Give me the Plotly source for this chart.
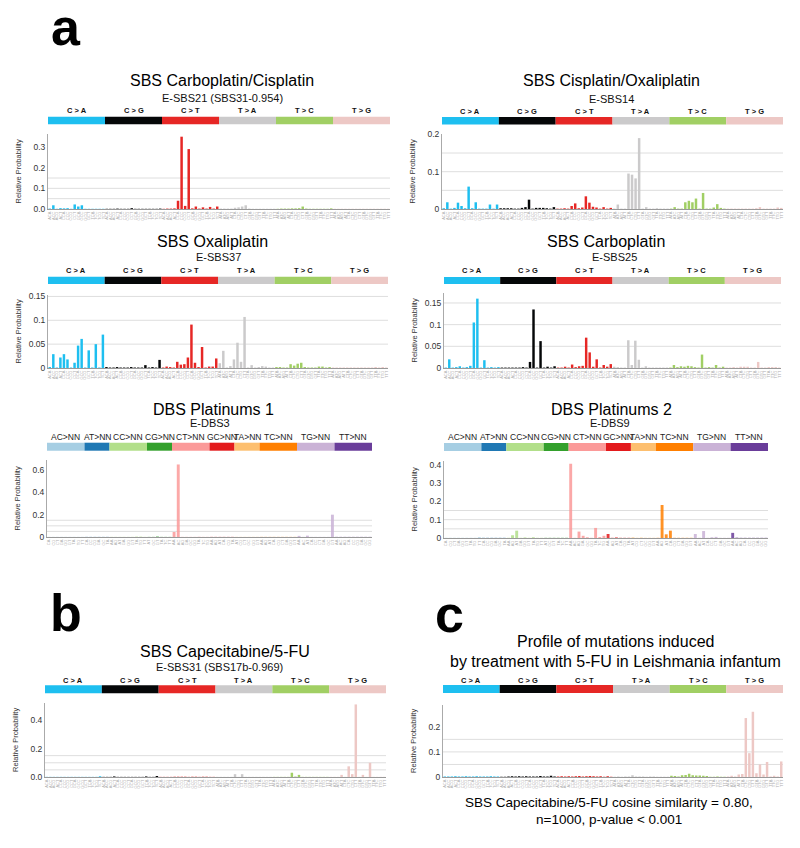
import plotly.graph_objects as go

W, H = 800, 848

# ---------------- categories / tick labels ----------------
SBS_TYPES = ["C > A", "C > G", "C > T", "T > A", "T > C", "T > G"]
SBS_COLORS = ["#1EBFF0", "#050708", "#E62725", "#CBCACB", "#A1CF64", "#EDC8C5"]
SBS_FLANKS = ["A_A", "A_C", "A_G", "A_T", "C_A", "C_C", "C_G", "C_T",
              "G_A", "G_C", "G_G", "G_T", "T_A", "T_C", "T_G", "T_T"]
SBS_REF = ["C", "C", "C", "T", "T", "T"]

DBS_TYPES = ["AC>NN", "AT>NN", "CC>NN", "CG>NN", "CT>NN", "GC>NN", "TA>NN", "TC>NN", "TG>NN", "TT>NN"]
DBS_COLORS = ["#A6CEE3", "#1F78B4", "#B2DF8A", "#33A02C", "#FB9A99",
              "#E31A1C", "#FDBF6F", "#FF7F00", "#CAB2D6", "#6A3D9A"]
DBS_ALTS = [
    ["CA", "CG", "CT", "GA", "GG", "GT", "TA", "TG", "TT"],
    ["CA", "CC", "CG", "GA", "GC", "TA"],
    ["AA", "AG", "AT", "GA", "GG", "GT", "TA", "TG", "TT"],
    ["AT", "GC", "GT", "TA", "TC", "TT"],
    ["AA", "AC", "AG", "GA", "GC", "GG", "TA", "TC", "TG"],
    ["AA", "AG", "AT", "CA", "CG", "TA"],
    ["AT", "CG", "CT", "GC", "GG", "GT"],
    ["AA", "AG", "AT", "CA", "CG", "CT", "GA", "GG", "GT"],
    ["AA", "AC", "AT", "CA", "CC", "CT", "GA", "GC", "GT"],
    ["AA", "AC", "AG", "CA", "CC", "CG", "GA", "GC", "GG"],
]

# ---------------- values ----------------
carbo_cis = [
    0.002, 0.018, 0.001, 0.004, 0.003, 0.004, 0.001, 0.022, 0.012, 0.018, 0.001, 0.001, 0.001, 0.001, 0.001, 0.001,
    0.001, 0.001, 0.001, 0.002, 0.001, 0.001, 0.001, 0.004, 0.001, 0.001, 0.001, 0.001, 0.001, 0.001, 0.001, 0.002,
    0.001, 0.002, 0.002, 0.003, 0.040, 0.350, 0.015, 0.290, 0.003, 0.012, 0.002, 0.008, 0.002, 0.010, 0.002, 0.012,
    0.002, 0.002, 0.002, 0.002, 0.006, 0.008, 0.012, 0.018, 0.002, 0.001, 0.001, 0.001, 0.001, 0.001, 0.001, 0.001,
    0.001, 0.002, 0.002, 0.002, 0.003, 0.003, 0.004, 0.012, 0.002, 0.001, 0.001, 0.001, 0.001, 0.001, 0.001, 0.003,
    0.001, 0.001, 0.001, 0.001, 0.001, 0.001, 0.001, 0.001, 0.001, 0.001, 0.001, 0.001, 0.001, 0.001, 0.001, 0.001,
]
cis_oxa = [
    0.002, 0.018, 0.001, 0.003, 0.017, 0.008, 0.002, 0.060, 0.002, 0.018, 0.001, 0.001, 0.001, 0.012, 0.001, 0.012,
    0.002, 0.002, 0.002, 0.002, 0.001, 0.001, 0.003, 0.005, 0.025, 0.001, 0.003, 0.003, 0.003, 0.002, 0.001, 0.005,
    0.001, 0.001, 0.002, 0.001, 0.008, 0.015, 0.002, 0.004, 0.034, 0.017, 0.006, 0.004, 0.001, 0.005, 0.001, 0.003,
    0.001, 0.012, 0.001, 0.001, 0.095, 0.092, 0.082, 0.190, 0.001, 0.005, 0.001, 0.001, 0.002, 0.001, 0.001, 0.001,
    0.001, 0.005, 0.001, 0.001, 0.018, 0.022, 0.018, 0.028, 0.001, 0.043, 0.001, 0.001, 0.004, 0.013, 0.003, 0.001,
    0.001, 0.001, 0.001, 0.001, 0.001, 0.001, 0.001, 0.001, 0.002, 0.005, 0.001, 0.001, 0.001, 0.001, 0.004, 0.003,
]
oxa = [
    0.002, 0.029, 0.001, 0.022, 0.029, 0.018, 0.001, 0.011, 0.047, 0.061, 0.001, 0.037, 0.001, 0.050, 0.001, 0.070,
    0.002, 0.001, 0.001, 0.002, 0.001, 0.001, 0.001, 0.002, 0.001, 0.001, 0.001, 0.006, 0.001, 0.002, 0.001, 0.017,
    0.001, 0.003, 0.002, 0.001, 0.013, 0.007, 0.008, 0.022, 0.091, 0.011, 0.002, 0.044, 0.001, 0.003, 0.003, 0.020,
    0.010, 0.036, 0.001, 0.004, 0.018, 0.053, 0.013, 0.107, 0.001, 0.006, 0.001, 0.002, 0.004, 0.003, 0.001, 0.001,
    0.002, 0.002, 0.001, 0.001, 0.008, 0.005, 0.009, 0.011, 0.002, 0.001, 0.001, 0.001, 0.003, 0.003, 0.001, 0.002,
    0.001, 0.001, 0.001, 0.001, 0.001, 0.001, 0.001, 0.001, 0.001, 0.001, 0.001, 0.001, 0.002, 0.001, 0.002, 0.001,
]
carbo = [
    0.001, 0.020, 0.001, 0.002, 0.004, 0.001, 0.002, 0.005, 0.105, 0.160, 0.001, 0.018, 0.001, 0.002, 0.001, 0.002,
    0.001, 0.001, 0.001, 0.001, 0.001, 0.001, 0.002, 0.001, 0.014, 0.135, 0.001, 0.062, 0.001, 0.003, 0.001, 0.004,
    0.001, 0.001, 0.003, 0.001, 0.008, 0.002, 0.004, 0.005, 0.070, 0.036, 0.003, 0.020, 0.001, 0.007, 0.003, 0.009,
    0.003, 0.002, 0.001, 0.001, 0.064, 0.007, 0.063, 0.019, 0.001, 0.004, 0.001, 0.001, 0.001, 0.001, 0.001, 0.001,
    0.001, 0.007, 0.002, 0.004, 0.003, 0.005, 0.004, 0.002, 0.001, 0.031, 0.001, 0.002, 0.001, 0.007, 0.001, 0.003,
    0.001, 0.001, 0.002, 0.001, 0.003, 0.003, 0.003, 0.001, 0.001, 0.014, 0.001, 0.001, 0.002, 0.002, 0.002, 0.001,
]
dbs_plat1 = [
    0.001, 0.001, 0.001, 0.001, 0.001, 0.001, 0.001, 0.001, 0.001,
    0.001, 0.001, 0.001, 0.001, 0.001, 0.001,
    0.001, 0.001, 0.001, 0.001, 0.001, 0.001, 0.003, 0.003, 0.001,
    0.001, 0.001, 0.004, 0.001, 0.001, 0.001,
    0.045, 0.650, 0.001, 0.001, 0.001, 0.001, 0.002, 0.001, 0.001,
    0.001, 0.001, 0.001, 0.001, 0.001, 0.001,
    0.001, 0.001, 0.001, 0.001, 0.001, 0.001,
    0.001, 0.001, 0.001, 0.001, 0.001, 0.001, 0.001, 0.001, 0.001,
    0.010, 0.001, 0.012, 0.001, 0.001, 0.001, 0.001, 0.001, 0.200,
    0.001, 0.001, 0.001, 0.001, 0.001, 0.001, 0.001, 0.001, 0.001,
]
dbs_plat2 = [
    0.001, 0.001, 0.001, 0.001, 0.001, 0.001, 0.001, 0.001, 0.004,
    0.001, 0.001, 0.001, 0.001, 0.001, 0.001,
    0.001, 0.015, 0.040, 0.001, 0.003, 0.001, 0.004, 0.001, 0.001,
    0.001, 0.001, 0.001, 0.001, 0.001, 0.001,
    0.405, 0.001, 0.035, 0.012, 0.004, 0.001, 0.055, 0.005, 0.012,
    0.022, 0.001, 0.003, 0.001, 0.001, 0.001,
    0.003, 0.001, 0.002, 0.001, 0.001, 0.001,
    0.001, 0.180, 0.020, 0.040, 0.001, 0.001, 0.001, 0.001, 0.001,
    0.022, 0.001, 0.038, 0.001, 0.004, 0.006, 0.001, 0.001, 0.001,
    0.028, 0.002, 0.001, 0.001, 0.001, 0.001, 0.001, 0.001, 0.001,
]
capecitabine = [
    0.001, 0.001, 0.001, 0.001, 0.001, 0.001, 0.001, 0.001, 0.001, 0.001, 0.001, 0.001, 0.001, 0.001, 0.001, 0.005,
    0.001, 0.001, 0.001, 0.004, 0.001, 0.001, 0.001, 0.001, 0.001, 0.001, 0.001, 0.001, 0.004, 0.001, 0.001, 0.007,
    0.001, 0.001, 0.001, 0.001, 0.002, 0.002, 0.002, 0.002, 0.001, 0.002, 0.002, 0.001, 0.002, 0.002, 0.001, 0.001,
    0.001, 0.001, 0.001, 0.001, 0.001, 0.020, 0.001, 0.020, 0.001, 0.001, 0.001, 0.001, 0.001, 0.001, 0.001, 0.001,
    0.001, 0.001, 0.001, 0.001, 0.001, 0.030, 0.003, 0.015, 0.001, 0.001, 0.001, 0.001, 0.001, 0.001, 0.001, 0.001,
    0.001, 0.001, 0.001, 0.015, 0.001, 0.075, 0.020, 0.510, 0.001, 0.015, 0.001, 0.100, 0.001, 0.001, 0.001, 0.001,
]
leishmania = [
    0.002, 0.002, 0.002, 0.003, 0.002, 0.002, 0.003, 0.002, 0.002, 0.003, 0.002, 0.002, 0.002, 0.003, 0.002, 0.002,
    0.001, 0.001, 0.002, 0.003, 0.002, 0.003, 0.002, 0.003, 0.002, 0.002, 0.002, 0.004, 0.002, 0.002, 0.005, 0.002,
    0.002, 0.003, 0.002, 0.003, 0.002, 0.003, 0.004, 0.002, 0.003, 0.004, 0.003, 0.002, 0.003, 0.001, 0.003, 0.001,
    0.001, 0.002, 0.001, 0.002, 0.002, 0.007, 0.002, 0.002, 0.002, 0.001, 0.002, 0.002, 0.001, 0.001, 0.001, 0.001,
    0.005, 0.004, 0.002, 0.007, 0.008, 0.013, 0.007, 0.006, 0.006, 0.005, 0.004, 0.001, 0.001, 0.002, 0.001, 0.001,
    0.002, 0.005, 0.002, 0.010, 0.012, 0.235, 0.095, 0.260, 0.015, 0.050, 0.010, 0.060, 0.002, 0.005, 0.002, 0.062,
]

# ---------------- panel layout (pixels) ----------------
FONT = "Liberation Sans, Arial, Helvetica, sans-serif"

def px(x):
    return x / W

def py(y):
    return 1 - y / H

panels = [
    dict(kind="sbs", data=carbo_cis, title=["SBS Carboplatin/Cisplatin"], sub="E-SBS21 (SBS31-0.954)",
         x=(48, 390), y=(134, 209), ymax=0.363, ticks=[0, 0.1, 0.2, 0.3], tt=["0.0", "0.1", "0.2", "0.3"],
         bar=(116.7, 124.3), lab=110.5, ty=[80.5], sy=98.5, tx=221.7, sx=222.5),
    dict(kind="sbs", data=cis_oxa, title=["SBS Cisplatin/Oxaliplatin"], sub="E-SBS14",
         x=(442, 783), y=(134, 209), ymax=0.201, ticks=[0, 0.1, 0.2], tt=["0", "0.1", "0.2"],
         bar=(117, 124.5), lab=111, ty=[80.5], sy=99.3, tx=611, sx=611),
    dict(kind="sbs", data=oxa, title=["SBS Oxaliplatin"], sub="E-SBS37",
         x=(48, 388), y=(295, 368), ymax=0.153, ticks=[0, 0.05, 0.1, 0.15], tt=["0", "0.05", "0.1", "0.15"],
         bar=(276.7, 284), lab=270, ty=[241.7], sy=257.3, tx=212.5, sx=218.3),
    dict(kind="sbs", data=carbo, title=["SBS Carboplatin"], sub="E-SBS25",
         x=(444, 781), y=(293, 368), ymax=0.173, ticks=[0, 0.05, 0.1, 0.15], tt=["0", "0.05", "0.1", "0.15"],
         bar=(277, 284), lab=270, ty=[241.7], sy=257.3, tx=606, sx=614.7),
    dict(kind="dbs", data=dbs_plat1, title=["DBS Platinums 1"], sub="E-DBS3",
         x=(47, 372), y=(460, 537), ymax=0.69, ticks=[0, 0.2, 0.4, 0.6], tt=["0", "0.2", "0.4", "0.6"],
         bar=(442.7, 450.7), lab=437, ty=[410], sy=423.3, tx=213.3, sx=210),
    dict(kind="dbs", data=dbs_plat2, title=["DBS Platinums 2"], sub="E-DBS9",
         x=(444, 768), y=(461, 538), ymax=0.42, ticks=[0, 0.1, 0.2, 0.3, 0.4], tt=["0", "0.1", "0.2", "0.3", "0.4"],
         bar=(443, 451), lab=437, ty=[410], sy=423.3, tx=611, sx=610),
    dict(kind="sbs", data=capecitabine, title=["SBS Capecitabine/5-FU"], sub="E-SBS31 (SBS17b-0.969)",
         x=(45, 386), y=(703, 777), ymax=0.52, ticks=[0, 0.2, 0.4], tt=["0.0", "0.2", "0.4"],
         bar=(685.3, 693.3), lab=680, ty=[651.7], sy=667.3, tx=224.7, sx=219),
    dict(kind="sbs", data=leishmania,
         title=["Profile of mutations induced", "by treatment with 5-FU in Leishmania infantum"], sub=None,
         x=(443, 783), y=(705, 777), ymax=0.287, ticks=[0, 0.1, 0.2], tt=["0", "0.1", "0.2"],
         bar=(685, 693), lab=680, ty=[641, 661], sy=None, tx=615.5, sx=None),
]

fig = go.Figure()
shapes = []
annotations = []
layout_axes = {}

for k, p in enumerate(panels, start=1):
    xa = "x" if k == 1 else f"x{k}"
    ya = "y" if k == 1 else f"y{k}"
    xname = "xaxis" if k == 1 else f"xaxis{k}"
    yname = "yaxis" if k == 1 else f"yaxis{k}"

    if p["kind"] == "sbs":
        labels, colors, groups = [], [], []
        start = 0
        for mt, col, ref in zip(SBS_TYPES, SBS_COLORS, SBS_REF):
            for f in SBS_FLANKS:
                labels.append(f[0] + ref + f[2])
                colors.append(col)
            groups.append((mt, col, start, start + 15))
            start += 16
        lab_font = dict(family=FONT, size=7.5, color="#111")
        lab_text = [f"<b>{g[0]}</b>" for g in groups]
        opac = 1.0
    else:
        labels, colors, groups = [], [], []
        start = 0
        for mt, col, alts in zip(DBS_TYPES, DBS_COLORS, DBS_ALTS):
            for a in alts:
                labels.append(a)
                colors.append(col)
            groups.append((mt, col, start, start + len(alts) - 1))
            start += len(alts)
        lab_font = dict(family=FONT, size=8.5, color="#222")
        lab_text = [g[0] for g in groups]
        opac = 0.85

    n = len(p["data"])
    xs = list(range(n))
    fig.add_trace(go.Bar(x=xs, y=p["data"], marker=dict(color=colors, line=dict(width=0)),
                         opacity=opac, xaxis=xa, yaxis=ya, showlegend=False, hoverinfo="x+y"))

    layout_axes[xname] = dict(
        domain=[px(p["x"][0]), px(p["x"][1])], anchor=ya, range=[-0.5, n - 0.5],
        tickmode="array", tickvals=xs, ticktext=labels, tickangle=-90,
        tickfont=dict(family=FONT, size=4, color="#b0b0b0"), ticks="", showgrid=False,
        showline=True, linecolor="#999", linewidth=1, zeroline=False, automargin=False, fixedrange=True)
    layout_axes[yname] = dict(
        domain=[py(p["y"][1]), py(p["y"][0])], anchor=xa, range=[0, p["ymax"]],
        tickmode="array", tickvals=p["ticks"], ticktext=p["tt"],
        tickfont=dict(family=FONT, size=8.5, color="#333"), ticks="", showgrid=False,
        showline=True, linecolor="#aaa", linewidth=1, zeroline=False, automargin=False, fixedrange=True)

    # horizontal guide lines
    for g in [0.05, 0.1, 0.15]:
        if g <= p["ymax"]:
            shapes.append(dict(type="line", xref=f"{xa} domain", yref=ya, x0=0, x1=1, y0=g, y1=g,
                               line=dict(color="#dedede", width=1), layer="below"))

    # category colour strip + labels
    for (mt, col, a, b), txt in zip(groups, lab_text):
        shapes.append(dict(type="rect", xref=xa, yref="paper", x0=a - 0.5, x1=b + 0.5,
                           y0=py(p["bar"][1]), y1=py(p["bar"][0]), fillcolor=col, line=dict(width=0)))
        annotations.append(dict(x=(a + b) / 2, xref=xa, y=py(p["lab"]), yref="paper", text=txt,
                                showarrow=False, font=lab_font, xanchor="center", yanchor="middle"))

    tsize = 16 if len(p["title"]) == 1 else 16
    for line, yy in zip(p["title"], p["ty"]):
        annotations.append(dict(x=px(p["tx"]), xref="paper", y=py(yy), yref="paper", text=line, showarrow=False,
                                font=dict(family=FONT, size=tsize, color="#000"),
                                xanchor="center", yanchor="middle"))
    if p["sub"]:
        annotations.append(dict(x=px(p["sx"]), xref="paper", y=py(p["sy"]), yref="paper", text=p["sub"],
                                showarrow=False, font=dict(family=FONT, size=11, color="#111"),
                                xanchor="center", yanchor="middle"))

    # y-axis title
    annotations.append(dict(x=px(p["x"][0] - 30), xref="paper", y=py((p["y"][0] + p["y"][1]) / 2), yref="paper",
                            text="Relative Probability", textangle=-90, showarrow=False,
                            font=dict(family=FONT, size=7.5, color="#333"),
                            xanchor="center", yanchor="middle"))

# panel letters
for letter, lx, ly in [("a", 66, 27), ("b", 66, 613), ("c", 449, 614)]:
    annotations.append(dict(x=px(lx), xref="paper", y=py(ly), yref="paper", text=f"<b>{letter}</b>",
                            showarrow=False, font=dict(family=FONT, size=52, color="#000"),
                            xanchor="center", yanchor="middle"))

# caption
annotations.append(dict(x=px(609), xref="paper", y=py(802), yref="paper",
                        text="SBS Capecitabine/5-FU cosine similarity = 0.80,", showarrow=False,
                        font=dict(family=FONT, size=13.5, color="#000"), xanchor="center", yanchor="middle"))
annotations.append(dict(x=px(609), xref="paper", y=py(819), yref="paper",
                        text="n=1000, p-value < 0.001", showarrow=False,
                        font=dict(family=FONT, size=13.5, color="#000"), xanchor="center", yanchor="middle"))

fig.update_layout(
    template="none",
    width=W, height=H,
    margin=dict(l=0, r=0, t=0, b=0, pad=0),
    paper_bgcolor="white", plot_bgcolor="white",
    bargap=0.3,
    showlegend=False,
    shapes=shapes,
    annotations=annotations,
    font=dict(family=FONT),
    **layout_axes,
)

fig.write_html("out.html", config={"displayModeBar": False, "staticPlot": True},
               post_script="document.body.style.margin='0';document.body.style.overflow='hidden';")
